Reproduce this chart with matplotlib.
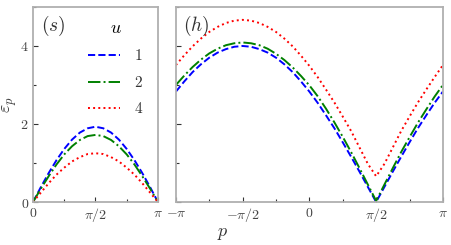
import numpy as np
import matplotlib
matplotlib.use('Agg')
import matplotlib.pyplot as plt
from matplotlib.ticker import MultipleLocator

plt.rcParams['mathtext.fontset'] = 'cm'
plt.rcParams['font.family'] = 'DejaVu Serif'

# values
u_vals = ['1', '2', '4']
colors = ['blue', 'green', 'red']
styles = ['--', '-.', ':']

# (s) panel, p = k*pi/16, k = 0..16
s_p = np.arange(17) * np.pi / 16
s_eps = {
    '1': [0, 0.38, 0.74, 1.07, 1.36, 1.60, 1.78, 1.89, 1.93, 1.89, 1.78, 1.60, 1.36, 1.07, 0.74, 0.38, 0],
    '2': [0, 0.34, 0.66, 0.96, 1.22, 1.43, 1.59, 1.69, 1.72, 1.69, 1.59, 1.43, 1.22, 0.96, 0.66, 0.34, 0],
    '4': [0, 0.24, 0.48, 0.70, 0.88, 1.04, 1.15, 1.23, 1.25, 1.23, 1.15, 1.04, 0.88, 0.70, 0.48, 0.24, 0],
}

# (h) panel, p = -pi + k*pi/16, k = 0..32
h_p = -np.pi + np.arange(33) * np.pi / 16
h_eps = {
    '1': [2.83, 3.09, 3.33, 3.53, 3.70, 3.83, 3.92, 3.98, 4.00, 3.98, 3.92, 3.83, 3.70, 3.53, 3.33, 3.09,
          2.83, 2.54, 2.22, 1.89, 1.53, 1.16, 0.78, 0.39, 0.00, 0.39, 0.78, 1.16, 1.53, 1.89, 2.22, 2.54, 2.83],
    '2': [3.00, 3.24, 3.46, 3.65, 3.81, 3.93, 4.02, 4.07, 4.09, 4.07, 4.02, 3.93, 3.80, 3.64, 3.45, 3.23,
          2.99, 2.71, 2.39, 2.04, 1.67, 1.28, 0.87, 0.45, 0.03, 0.45, 0.87, 1.28, 1.66, 2.03, 2.37, 2.70, 3.00],
    '4': [3.51, 3.76, 3.99, 4.19, 4.36, 4.49, 4.59, 4.65, 4.67, 4.65, 4.59, 4.49, 4.36, 4.19, 3.99, 3.75,
          3.49, 3.20, 2.88, 2.55, 2.19, 1.82, 1.40, 0.98, 0.66, 0.98, 1.40, 1.82, 2.19, 2.55, 2.88, 3.20, 3.51],
}

s_ticks = [0, np.pi / 2, np.pi]
s_ticklabels = ['$0$', r'$\pi/2$', r'$\pi$']
h_ticks = [-np.pi, -np.pi / 2, 0, np.pi / 2, np.pi]
h_ticklabels = [r'$-\pi$', r'$-\pi/2$', '$0$', r'$\pi/2$', r'$\pi$']
y_ticks = [0, 2, 4]
y_ticklabels = ['$0$', '$2$', '$4$']

fig = plt.figure(figsize=(4.51, 2.45), dpi=100)
ax1 = fig.add_axes([0.0732, 0.1755, 0.277, 0.796])
ax2 = fig.add_axes([0.390, 0.1755, 0.592, 0.796])

for u, c, ls in zip(u_vals, colors, styles):
    ax1.plot(s_p, s_eps[u], color=c, ls=ls, lw=1.4, label='$%s$' % u)
    ax2.plot(h_p, h_eps[u], color=c, ls=ls, lw=1.4)

for ax in (ax1, ax2):
    ax.set_ylim(0, 5)
    ax.set_yticks(y_ticks)
    ax.yaxis.set_minor_locator(MultipleLocator(1))
    ax.xaxis.set_minor_locator(MultipleLocator(np.pi / 4))
    ax.tick_params(which='both', direction='in', color='#333333', labelcolor='#444444',
                   labelsize=10, pad=3)
    ax.tick_params(which='major', length=3.5, width=0.8)
    ax.tick_params(which='minor', length=2, width=0.8)
    for sp in ax.spines.values():
        sp.set_color('#b0b0b0')
        sp.set_linewidth(1.3)

ax1.set_xlim(0, np.pi)
ax1.set_xticks(s_ticks)
ax1.set_xticklabels(s_ticklabels)
ax1.set_yticklabels(y_ticklabels)
ax1.set_ylabel(r'$\varepsilon_p$', fontsize=13, labelpad=1, color='#333333')

ax2.set_xlim(-np.pi, np.pi)
ax2.set_xticks(h_ticks)
ax2.set_xticklabels(h_ticklabels)
ax2.set_yticklabels([])

ax1.text(0.06, 0.965, '$(s)$', transform=ax1.transAxes, fontsize=14, va='top', color='#333333')
ax2.text(0.025, 0.965, '$(h)$', transform=ax2.transAxes, fontsize=14, va='top', color='#333333')

leg = ax1.legend(title='$u$', loc='upper right', frameon=False, fontsize=11,
                 handlelength=2.1, handletextpad=0.9, labelspacing=0.75,
                 borderaxespad=0.0, bbox_to_anchor=(0.93, 0.97))
leg.get_title().set_fontsize(13)
for t in leg.get_texts():
    t.set_color('#333333')

fig.text(0.493, 0.035, '$p$', fontsize=13, ha='center', color='#333333')

fig.savefig('out.png', dpi=100)
